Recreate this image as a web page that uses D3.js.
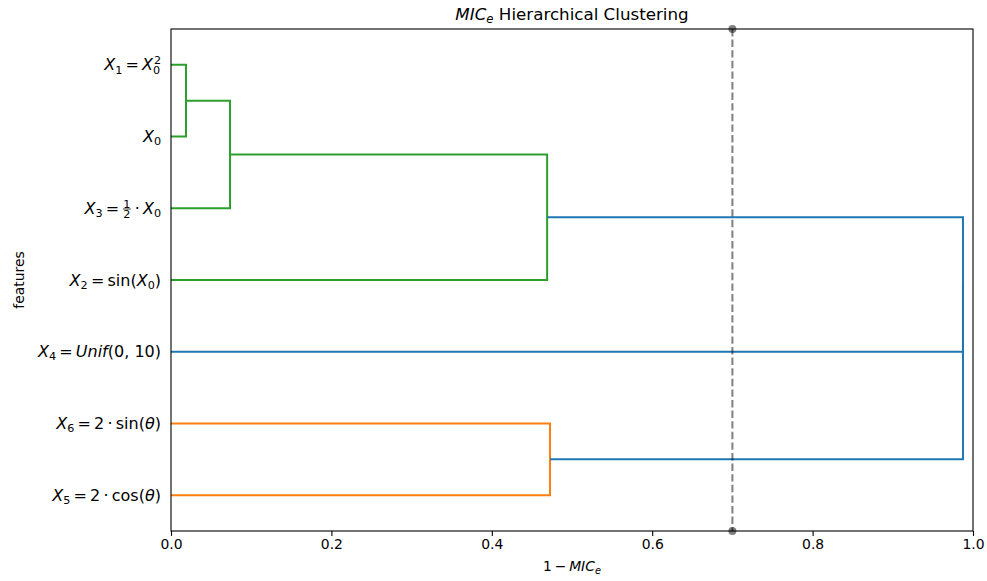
<!DOCTYPE html>
<html><head><meta charset="utf-8">
<script src="https://cdn.jsdelivr.net/npm/d3@7"></script>
<style>body{margin:0;background:#fff}svg{display:block}text{font-family:"DejaVu Sans",sans-serif;fill:#000}</style>
</head><body>
<svg id="chart" width="987" height="581"></svg>
<script>
// Leaves in plotted order, bottom to top (mathtext-style labels)
const leafLabels = [
  "$X_5=2\\cdot\\cos(\\theta)$",
  "$X_6=2\\cdot\\sin(\\theta)$",
  "$X_4=Unif(0, 10)$",
  "$X_2=\\sin(X_0)$",
  "$X_3=\\frac{1}{2}\\cdot X_0$",
  "$X_0$",
  "$X_1=X_0^2$"
];
// Linkage: [childA, childB, height, colour key]; ids >= 7 are merged clusters
const merges = [
  [5, 6, 0.0187, "green"],
  [4, 7, 0.0736, "green"],
  [3, 8, 0.469, "green"],
  [0, 1, 0.4726, "orange"],
  [2, 9, 0.9875, "blue"],
  [10, 11, 0.9875, "blue"]
];
const colours = {green: "#2ca02c", orange: "#ff7f0e", blue: "#1f77b4"};
const threshold = 0.7;
const xTicks = [0, 0.2, 0.4, 0.6, 0.8, 1.0];
const titleText = "$MIC_e$ Hierarchical Clustering";
const xLabelText = "$1-MIC_e$";
const yLabelText = "features";

const m = {l: 171, r: 973, t: 29, b: 531};
const svg = d3.select("#chart");
const x = d3.scaleLinear().domain([0, 1]).range([m.l, m.r]);
const y = d3.scaleLinear().domain([0, leafLabels.length * 10]).range([m.b, m.t]);

// node positions
const nodes = leafLabels.map((l, i) => ({pos: 5 + 10 * i, h: 0}));
merges.forEach(([a, b, h]) => {
  nodes.push({pos: (nodes[a].pos + nodes[b].pos) / 2, h});
});

// links
svg.append("g").selectAll("path").data(merges).join("path")
  .attr("fill", "none")
  .attr("stroke-width", 2)
  .attr("stroke", d => colours[d[3]])
  .attr("d", ([a, b, h]) => {
    const A = nodes[a], B = nodes[b];
    return `M${x(A.h)},${y(A.pos)}H${x(h)}V${y(B.pos)}H${x(B.h)}`;
  });

// threshold line
const g = svg.append("g");
g.append("line").attr("x1", x(threshold)).attr("x2", x(threshold))
  .attr("y1", m.t).attr("y2", m.b)
  .attr("stroke", "#000").attr("stroke-opacity", 0.5).attr("stroke-width", 2)
  .attr("stroke-dasharray", "7.4,3.2");
[m.t, m.b].forEach(yy => g.append("circle").attr("cx", x(threshold)).attr("cy", yy).attr("r", 4)
  .attr("fill", "#000").attr("fill-opacity", 0.5));

// frame
svg.append("rect").attr("x", m.l).attr("y", m.t).attr("width", m.r - m.l).attr("height", m.b - m.t)
  .attr("fill", "none").attr("stroke", "#000").attr("stroke-width", 1.1);

// x axis
const xa = svg.append("g").attr("transform", `translate(0,${m.b})`)
  .call(d3.axisBottom(x).tickValues(xTicks).tickFormat(d3.format(".1f")).tickSize(4.9).tickPadding(3.5).tickSizeOuter(0));
xa.select(".domain").remove();
xa.selectAll("line").attr("stroke-width", 1.1);
xa.selectAll("text").style("font-size", "13.9px").attr("font-family", "DejaVu Sans");

// --- tiny mathtext renderer ---
function tokenize(s) {
  s = s.replace(/\$/g, "");
  const toks = [];
  let i = 0;
  const group = () => {
    if (s[i] === "{") { const j = s.indexOf("}", i); const r = s.slice(i + 1, j); i = j + 1; return r; }
    return s[i++];
  };
  const cmd = (name) => { if (s.startsWith(name, i)) { i += name.length; if (s[i] === " ") i++; return true; } return false; };
  while (i < s.length) {
    if (s.startsWith("\\frac", i)) { i += 5; const a = group(), b = group(); toks.push({frac: [a, b]}); continue; }
    if (cmd("\\sin")) { toks.push({t: "sin"}); continue; }
    if (cmd("\\cos")) { toks.push({t: "cos"}); continue; }
    if (cmd("\\theta")) { toks.push({t: "θ", it: true}); continue; }
    if (cmd("\\cdot")) { toks.push({t: "·", padL: 0.2, padR: 0.2}); continue; }
    const c = s[i];
    if (c === "_" || c === "^") { i++; const gtxt = group(); toks.push({t: gtxt, it: /[A-Za-z]/.test(gtxt), shift: c === "_" ? "sub" : "sup"}); continue; }
    if (c === "=") { i++; toks.push({t: "=", padL: 0.2, padR: 0.2}); continue; }
    if (c === "-") { i++; toks.push({t: "−", padL: 0.2, padR: 0.2}); continue; }
    if (c === " ") { i++; toks.push({t: "\u00a0"}); continue; }
    i++; toks.push({t: c, it: /[A-Za-z]/.test(c)});
  }
  return toks;
}
function drawMath(parent, str, fs, anchor) {
  const grp = parent.append("g");
  let cx = 0;
  const mk = (txt, xx, yy, size, it) => grp.append("text").attr("x", xx).attr("y", yy)
    .style("font-size", size + "px").style("font-style", it ? "italic" : "normal").text(txt);
  const parts = str.split(/(\$[^$]*\$)/).filter(p => p.length);
  parts.forEach(p => {
    if (p[0] !== "$") {
      const t = mk(p.replace(/ /g, "\u00a0"), cx, 0, fs, false);
      cx += t.node().getComputedTextLength();
      return;
    }
    let prevSub = null;
    tokenize(p).forEach(tk => {
      if (tk.frac) {
        const s2 = fs * 0.7;
        const n = mk(tk.frac[0], 0, 0, s2, false), d = mk(tk.frac[1], 0, 0, s2, false);
        const wn = n.node().getComputedTextLength(), wd = d.node().getComputedTextLength();
        const w = Math.max(wn, wd) + fs * 0.12;
        const ax = -fs * 0.3;
        n.attr("x", cx + (w - wn) / 2).attr("y", ax - fs * 0.08);
        d.attr("x", cx + (w - wd) / 2).attr("y", ax + fs * 0.08 + s2 * 0.73);
        grp.append("line").attr("x1", cx + fs * 0.04).attr("x2", cx + w - fs * 0.04).attr("y1", ax).attr("y2", ax)
          .attr("stroke", "#000").attr("stroke-width", 0.8);
        cx += w;
        prevSub = null;
        return;
      }
      const size = tk.shift ? fs * 0.7 : fs;
      if (tk.shift === "sup" && prevSub) {
        // stack superscript above preceding subscript
        const t = mk(tk.t, prevSub.x + fs * 0.05, -fs * 0.42, size, tk.it);
        cx = Math.max(cx, prevSub.x + fs * 0.05 + t.node().getComputedTextLength());
        prevSub = null;
        return;
      }
      const dy = tk.shift === "sub" ? fs * 0.2 : tk.shift === "sup" ? -fs * 0.4 : 0;
      cx += (tk.padL || 0) * fs;
      const t = mk(tk.t, cx, dy, size, tk.it);
      prevSub = tk.shift === "sub" ? {x: cx} : null;
      cx += t.node().getComputedTextLength() + (tk.padR || 0) * fs;
    });
  });
  const off = anchor === "end" ? -cx : anchor === "middle" ? -cx / 2 : 0;
  grp.selectAll("text").each(function () { const s = d3.select(this); s.attr("x", +s.attr("x") + off); });
  grp.selectAll("line").each(function () { const s = d3.select(this); s.attr("x1", +s.attr("x1") + off).attr("x2", +s.attr("x2") + off); });
  return grp;
}

// y tick labels
leafLabels.forEach((lab, i) => {
  drawMath(svg, lab, 16, "end").attr("transform", `translate(${m.l - 10},${y(nodes[i].pos) + 5.5})`);
});

// title
drawMath(svg, titleText, 16.7, "middle").attr("transform", `translate(${(m.l + m.r) / 2},20)`);
// x label
drawMath(svg, xLabelText, 13.9, "middle").attr("transform", `translate(${(m.l + m.r) / 2},571)`);
// y label
svg.append("text").attr("transform", `translate(24,${(m.t + m.b) / 2}) rotate(-90)`)
  .attr("text-anchor", "middle").style("font-size", "13.9px").text(yLabelText);
</script>
</body></html>
